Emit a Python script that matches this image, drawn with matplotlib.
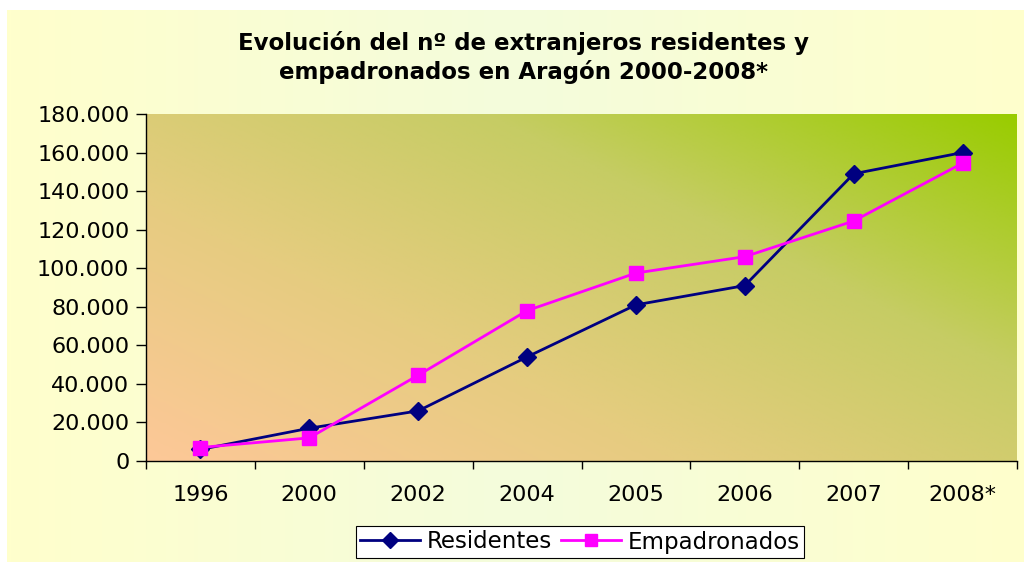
import numpy as np
import matplotlib
matplotlib.use('Agg')
import matplotlib.pyplot as plt
from matplotlib.colors import LinearSegmentedColormap
from matplotlib.ticker import FuncFormatter, FixedLocator

# data
years = ['1996', '2000', '2002', '2004', '2005', '2006', '2007', '2008*']
residentes = [6000, 17000, 26000, 54000, 81000, 91000, 149000, 160000]
empadronados = [7000, 12000, 44500, 78000, 97500, 106000, 124500, 154500]

plt.rcParams['font.family'] = ['DejaVu Sans']

fig = plt.figure(figsize=(10.24, 5.62), dpi=100)
fig.patch.set_facecolor('white')

# outer chart area with a soft horizontal gradient
bg = fig.add_axes([7 / 1024, 0, 1 - 7 / 1024, 1 - 10 / 562], zorder=-10)
bg_cmap = LinearSegmentedColormap.from_list('bg', ['#ffffcc', '#f4fcdc', '#ffffcc'])
bg.imshow(np.linspace(0, 1, 256).reshape(1, -1), cmap=bg_cmap, aspect='auto',
          extent=[0, 1, 0, 1])
bg.axis('off')

# plot area
left, right, top, bottom = 146, 1017, 114, 461
ax = fig.add_axes([left / 1024, 1 - bottom / 562, (right - left) / 1024, (bottom - top) / 562])
ax.set_facecolor('none')

# diagonal gradient: peach at bottom-left to green at top-right
gx, gy = np.meshgrid(np.linspace(0, 1, 300), np.linspace(0, 1, 200))
grad = (gx * 0.55 + gy * 0.45)
plot_cmap = LinearSegmentedColormap.from_list('plot', ['#fdc898', '#e6cc80', '#c6cc64', '#99cc00'])
ax.imshow(grad, cmap=plot_cmap, origin='lower', aspect='auto',
          extent=[-0.5, len(years) - 0.5, 0, 180000], zorder=0)

x = np.arange(len(years))
ax.plot(x, residentes, color='#000080', lw=2, marker='D', markersize=9,
        label='Residentes', zorder=3)
ax.plot(x, empadronados, color='#ff00ff', lw=2, marker='s', markersize=10,
        label='Empadronados', zorder=3)

ax.set_xlim(-0.5, len(years) - 0.5)
ax.set_ylim(0, 180000)
ax.set_yticks(np.arange(0, 180001, 20000))
ax.yaxis.set_major_formatter(FuncFormatter(lambda v, p: '{:,.0f}'.format(v).replace(',', '.')))

# category labels centred, tick marks between categories
ax.xaxis.set_major_locator(FixedLocator(np.arange(-0.5, len(years), 1)))
ax.xaxis.set_minor_locator(FixedLocator(x))
ax.set_xticklabels([])
ax.set_xticklabels(years, minor=True)
ax.tick_params(axis='x', which='major', length=6, width=1, direction='out')
ax.tick_params(axis='x', which='minor', length=0, pad=17, labelsize=16)
ax.tick_params(axis='y', length=7, width=1, direction='out', labelsize=16, pad=5)

for s in ['top', 'right']:
    ax.spines[s].set_visible(False)
for s in ['left', 'bottom']:
    ax.spines[s].set_color('black')
    ax.spines[s].set_linewidth(1)

fig.text(0.511, 1 - 43 / 562, 'Evolución del nº de extranjeros residentes y',
         ha='center', va='center', fontsize=16.5, fontweight='bold')
fig.text(0.511, 1 - 72 / 562, 'empadronados en Aragón 2000-2008*',
         ha='center', va='center', fontsize=16.5, fontweight='bold')

leg = fig.legend(loc='center', bbox_to_anchor=(580 / 1024, 1 - 542 / 562), ncol=2,
                 fontsize=16.5, frameon=True, fancybox=False, handlelength=2.6,
                 columnspacing=0.4, handletextpad=0.3, borderpad=0.2,
                 borderaxespad=0, markerscale=0.85)
leg.get_frame().set_edgecolor('black')
leg.get_frame().set_facecolor('white')
leg.get_frame().set_linewidth(0.8)
leg.get_frame().set_alpha(1)

fig.savefig('out.png', dpi=100)
